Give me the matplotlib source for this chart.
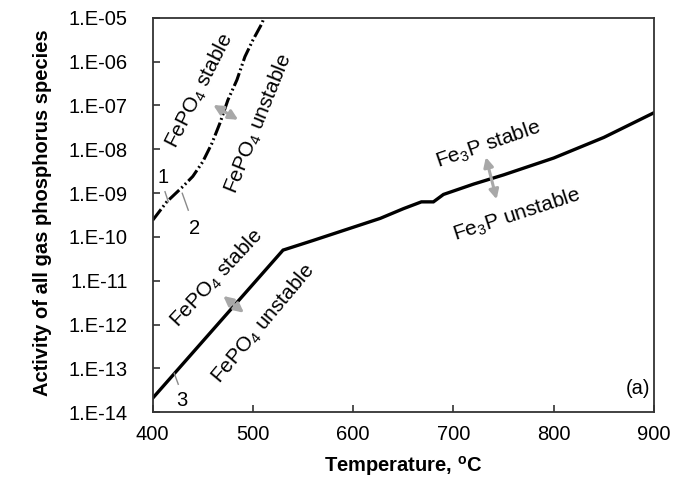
import numpy as np
import matplotlib
matplotlib.use("Agg")
import matplotlib.pyplot as plt
from matplotlib.ticker import FuncFormatter, FixedLocator

plt.rcParams['font.family'] = ['Liberation Sans', 'DejaVu Sans']
plt.rcParams['mathtext.fontset'] = 'custom'
plt.rcParams['mathtext.rm'] = 'Liberation Sans'

# curves 1 and 2 (nearly overlapping, dash-dot-dot)
temp_12 = [400, 414, 430, 440, 450, 459, 467, 475, 484, 492, 500, 509, 511]
act_12 = [2.4e-10, 6.3e-10, 1.4e-9, 2.4e-9, 5.2e-9, 1.35e-8, 3.9e-8, 1.32e-7,
          3.8e-7, 1.29e-6, 3.1e-6, 7.4e-6, 1.0e-5]

# curve 3 (solid)
temp_3 = [400, 530, 560, 600, 627, 650, 668, 680, 690, 720, 750, 800, 850, 900]
act_3 = [2.1e-14, 5.0e-11, 8.3e-11, 1.66e-10, 2.65e-10, 4.4e-10, 6.3e-10, 6.3e-10,
         9.3e-10, 1.6e-9, 2.6e-9, 6.3e-9, 1.86e-8, 6.8e-8]

x_ticks = [400, 500, 600, 700, 800, 900]
y_exps = list(range(-14, -4))

fig = plt.figure(figsize=(6.75, 4.94), dpi=100)
ax = fig.add_axes([0.2262, 0.1654, 0.7427, 0.7988])

ax.plot(temp_12, act_12, color='black', lw=2.2, dashes=[4.5, 1, 0.6, 1, 0.6, 1])
ax.plot(temp_3, act_3, color='black', lw=2.4, solid_joinstyle='miter')

ax.set_yscale('log')
ax.set_xlim(400, 900)
ax.set_ylim(1e-14, 1e-5)
ax.xaxis.set_major_locator(FixedLocator(x_ticks))
ax.yaxis.set_major_locator(FixedLocator([10.0 ** e for e in y_exps]))
ax.yaxis.set_minor_locator(FixedLocator([]))
ax.yaxis.set_major_formatter(FuncFormatter(lambda v, p: f"1.E{int(round(np.log10(v))):03d}"))

ax.tick_params(direction='in', length=5, width=1.2, color='#333333', labelsize=14.5)
ax.tick_params(axis='y', pad=18)
ax.tick_params(axis='x', pad=9)
for s in ax.spines.values():
    s.set_linewidth(1.3)
    s.set_color('#333333')

ax.set_xlabel(r'Temperature, $^\mathregular{o}$C', fontsize=14.5, fontweight='bold')
ax.set_ylabel('Activity of all gas phosphorus species', fontsize=14.5, fontweight='bold')
ax.xaxis.set_label_coords(0.5, -0.105)
ax.yaxis.set_label_coords(-0.2, 0.506)

# region labels
tsize = 15
ax.text(446.5, 2.2e-7, r'FePO$_\mathregular{4}$ stable', rotation=63, fontsize=tsize,
        ha='center', va='center', rotation_mode='anchor')
ax.text(505.3, 3.9e-8, r'FePO$_\mathregular{4}$ unstable', rotation=68, fontsize=tsize,
        ha='center', va='center', rotation_mode='anchor')
ax.text(463.8, 1.15e-11, r'FePO$_\mathregular{4}$ stable', rotation=47, fontsize=tsize,
        ha='center', va='center', rotation_mode='anchor')
ax.text(510.3, 1.07e-12, r'FePO$_\mathregular{4}$ unstable', rotation=50, fontsize=tsize,
        ha='center', va='center', rotation_mode='anchor')
ax.text(734.6, 1.26e-8, r'Fe$_\mathregular{3}$P stable', rotation=19, fontsize=tsize,
        ha='center', va='center', rotation_mode='anchor')
ax.text(762.9, 3.2e-10, r'Fe$_\mathregular{3}$P unstable', rotation=18, fontsize=tsize,
        ha='center', va='center', rotation_mode='anchor')

# double arrows
arrow_kw = dict(arrowstyle='<|-|>', color='#a8a8a8', lw=2.2, mutation_scale=14,
                shrinkA=0, shrinkB=0)
ax.annotate('', xy=(460.4, 1.02e-7), xytext=(485.3, 4.7e-8), arrowprops=arrow_kw)
ax.annotate('', xy=(470.4, 4.5e-12), xytext=(491.0, 1.86e-12), arrowprops=arrow_kw)
ax.annotate('', xy=(732.3, 6.6e-9), xytext=(743.0, 7.2e-10), arrowprops=arrow_kw)

# curve numbers with leader lines
lead = dict(color='#8a8a8a', lw=1.0)
ax.text(410.6, 2.3e-9, '1', fontsize=14.5, ha='center', va='center')
ax.plot([412.3, 415.6], [10 ** -8.97, 10 ** -9.20], **lead)
ax.text(442.2, 10 ** -9.80, '2', fontsize=14.5, ha='center', va='center')
ax.plot([429.5, 435.5], [10 ** -9.005, 10 ** -9.39], **lead)
ax.text(429.2, 10 ** -13.72, '3', fontsize=14.5, ha='center', va='center')
ax.plot([421.5, 425.5], [10 ** -13.11, 10 ** -13.36], **lead)

ax.text(0.993, 0.035, '(a)', transform=ax.transAxes, fontsize=14.5, ha='right', va='bottom')

fig.savefig('out.png', dpi=100)
